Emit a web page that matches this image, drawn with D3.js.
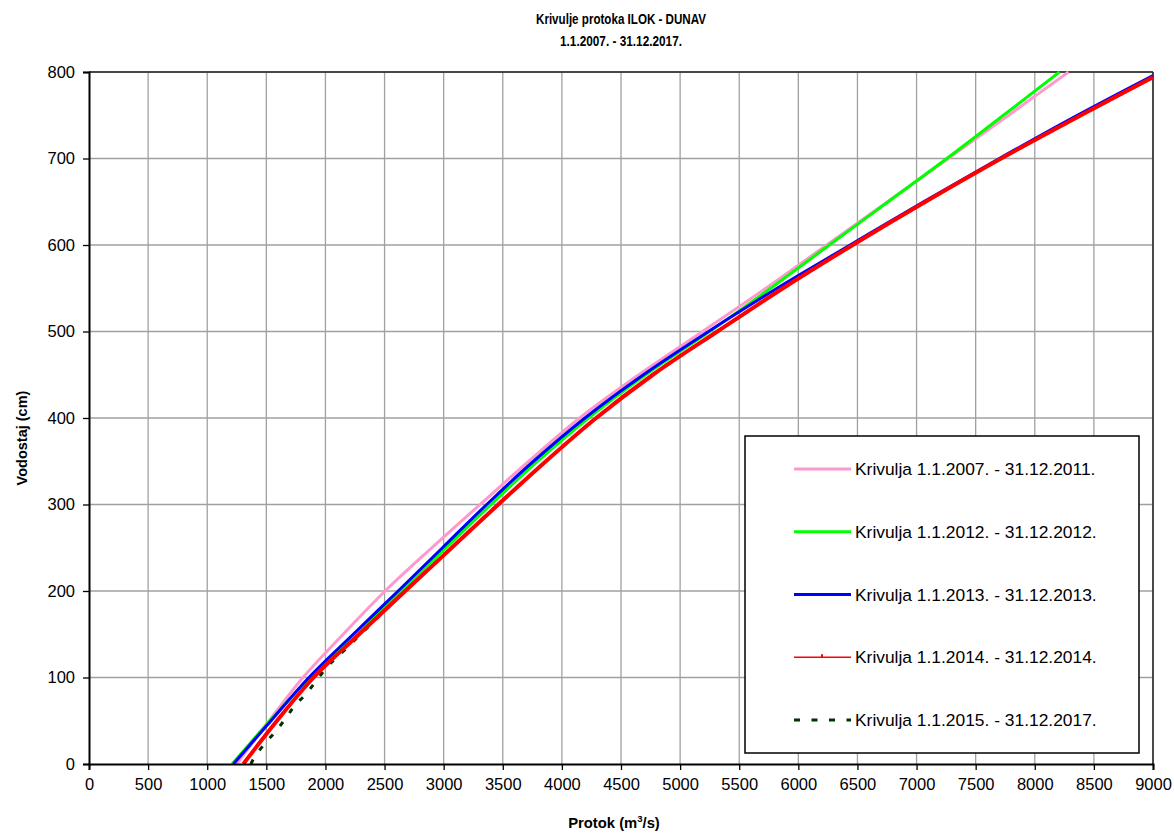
<!DOCTYPE html>
<html>
<head>
<meta charset="utf-8">
<script src="https://cdn.jsdelivr.net/npm/d3@7/dist/d3.min.js"></script>
<style>
  body { margin: 0; background: #fff; }
  svg { display: block; font-family: "Liberation Sans", Arial, sans-serif; }
</style>
</head>
<body>
<svg id="chart" width="1174" height="836"></svg>
<script>
// ---- Data: [Protok Q (m3/s), Vodostaj H (cm)] ----
const curve2007_2011 = [[1250,0],[1525,50],[1810,100],[2150,150],[2505,200],[2900,250],[3308,300],[3720,350],[4150,400],[4650,450],[5190,500],[5725,550],[6240,600],[6755,650],[7268,700],[7778,750],[8285,800]];
const curve2012 = [[1210,0],[1530,50],[1870,100],[2250,150],[2640,200],[3020,250],[3400,300],[3795,350],[4225,400],[4710,450],[5250,500],[5765,550],[6262,600],[6760,650],[7256,700],[7735,750],[8209,800]];
const curve2013 = [[1222,0],[1540,50],[1860,100],[2235,150],[2615,200],[2990,250],[3364,300],[3760,350],[4195,400],[4690,450],[5240,500],[5820,550],[6438,600],[7060,650],[7700,700],[8360,750],[9000,796]];
const curve2014 = [[1305,0],[1590,50],[1900,100],[2285,150],[2675,200],[3068,250],[3462,300],[3865,350],[4290,400],[4770,450],[5315,500],[5870,550],[6460,600],[7075,650],[7715,700],[8390,750],[9000,794]];
const curve2015_2017 = [[1370,0],[1395,7],[1490,24],[1574,37],[1660,52],[1743,68],[1836,81],[1932,98],[2025,114],[2118,126],[2675,200],[3068,250],[3462,300],[3865,350],[4290,400],[4770,450],[5315,500],[5870,550],[6460,600],[7075,650],[7715,700],[8390,750],[9000,794]];

const seriesNames = ["Krivulja 1.1.2007. - 31.12.2011.","Krivulja 1.1.2012. - 31.12.2012.","Krivulja 1.1.2013. - 31.12.2013.","Krivulja 1.1.2014. - 31.12.2014.","Krivulja 1.1.2015. - 31.12.2017."];
const xTicks = [0,500,1000,1500,2000,2500,3000,3500,4000,4500,5000,5500,6000,6500,7000,7500,8000,8500,9000];
const yTicks = [0,100,200,300,400,500,600,700,800];
const titleLines = ["Krivulje protoka ILOK - DUNAV","1.1.2007. - 31.12.2017."];

// ---- Layout ----
const svg = d3.select("#chart");
const L = 89, R = 1153, T = 72, B = 764;
const x = d3.scaleLinear().domain([0,9000]).range([L,R]);
const y = d3.scaleLinear().domain([0,800]).range([B,T]);

// grid
const grid = svg.append("g");
grid.selectAll("line.v").data(xTicks.slice(1)).enter().append("line")
  .attr("x1", d=>x(d)).attr("x2", d=>x(d)).attr("y1", T).attr("y2", B)
  .attr("stroke", "#a0a0a0").attr("stroke-width", 1.3);
grid.selectAll("line.h").data(yTicks.slice(1)).enter().append("line")
  .attr("x1", L).attr("x2", R).attr("y1", d=>y(d)).attr("y2", d=>y(d))
  .attr("stroke", "#a0a0a0").attr("stroke-width", 1.3);

// frame top/right
svg.append("line").attr("x1",L).attr("x2",R).attr("y1",T).attr("y2",T).attr("stroke","#222").attr("stroke-width",1.5);
svg.append("line").attr("x1",R).attr("x2",R).attr("y1",T).attr("y2",B).attr("stroke","#222").attr("stroke-width",1.5);

// clip
svg.append("clipPath").attr("id","clip").append("rect").attr("x",L).attr("y",T-1).attr("width",R-L+1).attr("height",B-T+1);

const line = d3.line().x(d=>x(d[0])).y(d=>y(d[1])).curve(d3.curveCatmullRom.alpha(0.5));
const plot = svg.append("g").attr("clip-path","url(#clip)");

const styles = [
  {data: curve2007_2011, color:"#ff99cc", width:3, dash:null},
  {data: curve2012, color:"#00ff00", width:3, dash:null},
  {data: curve2013, color:"#0000ff", width:3, dash:null},
  {data: curve2015_2017, color:"#003300", width:3, dash:"5,11"},
  {data: curve2014, color:"#ff0000", width:4, dash:null}
];
styles.forEach(s => {
  plot.append("path").datum(s.data).attr("d", line)
    .attr("fill","none").attr("stroke", s.color).attr("stroke-width", s.width)
    .attr("stroke-dasharray", s.dash);
});

// axes
const xAxis = d3.axisBottom(x).tickValues(xTicks).tickSize(6).tickPadding(8).tickFormat(d3.format("d"));
const gx = svg.append("g").attr("transform",`translate(0,${B})`).call(xAxis);
gx.select(".domain").attr("stroke","#000").attr("stroke-width",2);
gx.selectAll(".tick line").attr("stroke","#000").attr("stroke-width",1.3);
gx.selectAll(".tick text").attr("font-size",16.5).attr("fill","#000").attr("font-family","Liberation Sans, Arial, sans-serif");

const yAxis = d3.axisLeft(y).tickValues(yTicks).tickSize(6).tickPadding(8).tickFormat(d3.format("d"));
const gy = svg.append("g").attr("transform",`translate(${L},0)`).call(yAxis);
gy.select(".domain").attr("stroke","#000").attr("stroke-width",2);
gy.selectAll(".tick line").attr("stroke","#000").attr("stroke-width",1.3);
gy.selectAll(".tick text").attr("font-size",16.5).attr("fill","#000").attr("font-family","Liberation Sans, Arial, sans-serif");

// titles
svg.append("text").attr("x",621).attr("y",24).attr("text-anchor","middle")
  .attr("font-weight","bold").attr("font-size",14.5)
  .attr("textLength",170).attr("lengthAdjust","spacingAndGlyphs").text(titleLines[0]);
svg.append("text").attr("x",621).attr("y",46).attr("text-anchor","middle")
  .attr("font-weight","bold").attr("font-size",14.5)
  .attr("textLength",122).attr("lengthAdjust","spacingAndGlyphs").text(titleLines[1]);

const xt = svg.append("text").attr("x",614).attr("y",828).attr("text-anchor","middle")
  .attr("font-weight","bold").attr("font-size",14.8);
xt.append("tspan").text("Protok (m");
xt.append("tspan").attr("font-size",9.5).attr("dy",-6).text("3");
xt.append("tspan").attr("dy",6).text("/s)");

svg.append("text").attr("transform","translate(27,438) rotate(-90)").attr("text-anchor","middle")
  .attr("font-weight","bold").attr("font-size",14.5).text("Vodostaj (cm)");

// legend
const lg = svg.append("g");
lg.append("rect").attr("x",745).attr("y",436).attr("width",394).attr("height",317)
  .attr("fill","#fff").attr("stroke","#000").attr("stroke-width",1.5);
const legStyles = [
  {color:"#ff99cc", width:3, dash:null},
  {color:"#00ff00", width:3, dash:null},
  {color:"#0000ff", width:3, dash:null},
  {color:"#ff0000", width:1.5, dash:null},
  {color:"#003300", width:3, dash:"6,11.5"}
];
const rowY = d3.scaleLinear().domain([0,4]).range([469,720]);
seriesNames.forEach((name,i) => {
  const ry = rowY(i);
  lg.append("line").attr("x1",794).attr("x2",851).attr("y1",ry).attr("y2",ry)
    .attr("stroke",legStyles[i].color).attr("stroke-width",legStyles[i].width)
    .attr("stroke-dasharray",legStyles[i].dash);
  if (i===3) {
    lg.append("rect").attr("x",821).attr("y",ry-3).attr("width",2).attr("height",3).attr("fill","#ff0000");
  }
  lg.append("text").attr("x",855).attr("y",ry+6).attr("font-size",17.4).attr("fill","#000").text(name);
});
</script>
</body>
</html>
